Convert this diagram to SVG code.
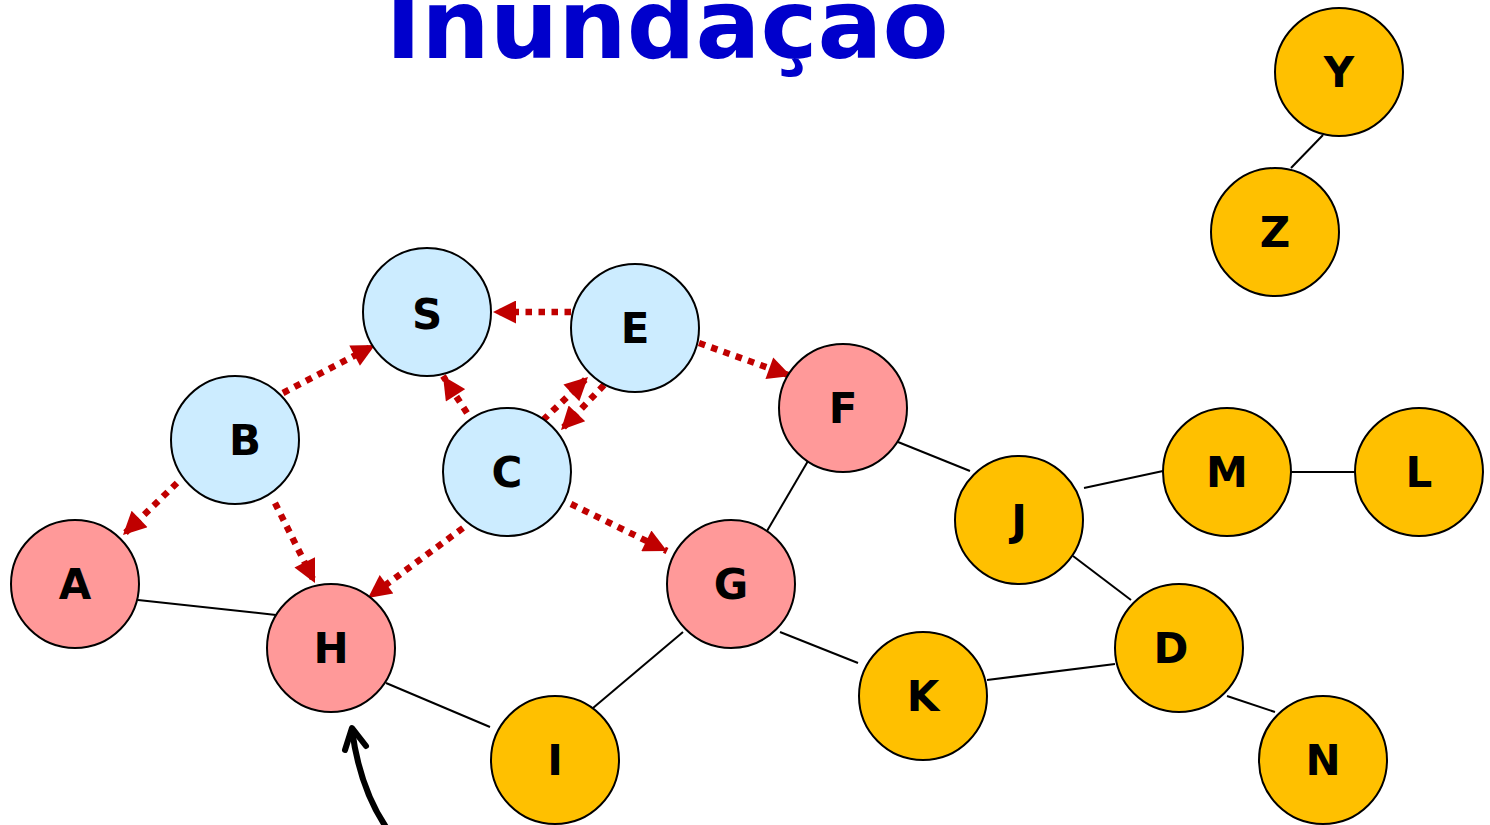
<svg xmlns="http://www.w3.org/2000/svg" width="1490" height="825" viewBox="0 0 1490 825">
<style>
.n{stroke:#000;stroke-width:2}
.blue{fill:#CCECFF}
.pink{fill:#FF9999}
.orng{fill:#FFC000}
.lbl{font-family:"DejaVu Sans","Liberation Sans",sans-serif;font-weight:bold;font-size:42px;fill:#000;text-anchor:middle;dominant-baseline:central}
.e{stroke:#000;stroke-width:2;fill:none}
.d{stroke:#C00000;stroke-width:6.5;stroke-dasharray:6.5 6.5;fill:none;marker-end:url(#ah)}
</style>
<defs>
<marker id="ah" viewBox="0 0 10 10" refX="10" refY="5" markerWidth="25" markerHeight="23" markerUnits="userSpaceOnUse" orient="auto">
<path d="M0,0 L10,5 L0,10 z" fill="#C00000"/>
</marker>
</defs>
<rect width="1490" height="825" fill="#fff"/>
<text x="667" y="58" font-family="'DejaVu Sans','Liberation Sans',sans-serif" font-weight="bold" font-size="96" fill="#0000CC" text-anchor="middle" textLength="563" lengthAdjust="spacingAndGlyphs">Inundação</text>
<g id="connectors">
<line class="e" x1="138" y1="600" x2="276" y2="615"/>
<line class="e" x1="386" y1="683" x2="490" y2="727"/>
<line class="e" x1="593" y1="708" x2="683" y2="632"/>
<line class="e" x1="767" y1="531" x2="808" y2="461"/>
<line class="e" x1="780" y1="632" x2="858" y2="663"/>
<line class="e" x1="898" y1="442" x2="970" y2="471"/>
<line class="e" x1="1084" y1="488" x2="1163" y2="471"/>
<line class="e" x1="1291" y1="472" x2="1355" y2="472"/>
<line class="e" x1="1073" y1="556" x2="1131" y2="600"/>
<line class="e" x1="987" y1="680" x2="1115" y2="664"/>
<line class="e" x1="1227" y1="696" x2="1275" y2="712"/>
<line class="e" x1="1323" y1="135" x2="1291" y2="168"/>
<line class="d" x1="571" y1="312" x2="493" y2="312"/>
<line class="d" x1="283" y1="393" x2="375" y2="345"/>
<line class="d" x1="467" y1="413" x2="443" y2="376"/>
<line class="d" x1="543" y1="420" x2="588" y2="377"/>
<line class="d" x1="604" y1="385" x2="561" y2="430"/>
<line class="d" x1="699" y1="343" x2="791" y2="376"/>
<line class="d" x1="177" y1="483" x2="123" y2="535"/>
<line class="d" x1="275" y1="503" x2="315" y2="583"/>
<line class="d" x1="463" y1="528" x2="368" y2="598"/>
<line class="d" x1="571" y1="504" x2="667" y2="551"/>
<path d="M388,830 Q360,790 352,730" stroke="#000" stroke-width="6" fill="none" stroke-linecap="round"/>
<path d="M345,750 L352,728 L366,746" stroke="#000" stroke-width="6" fill="none" stroke-linecap="round" stroke-linejoin="round"/>
</g>
<g id="node-S"><circle class="n blue" cx="427" cy="312" r="64"/><text class="lbl" x="427" y="314">S</text></g>
<g id="node-E"><circle class="n blue" cx="635" cy="328" r="64"/><text class="lbl" x="635" y="328">E</text></g>
<g id="node-B"><circle class="n blue" cx="235" cy="440" r="64"/><text class="lbl" x="245" y="440">B</text></g>
<g id="node-C"><circle class="n blue" cx="507" cy="472" r="64"/><text class="lbl" x="507" y="472">C</text></g>
<g id="node-F"><circle class="n pink" cx="843" cy="408" r="64"/><text class="lbl" x="843" y="408">F</text></g>
<g id="node-A"><circle class="n pink" cx="75" cy="584" r="64"/><text class="lbl" x="75" y="584">A</text></g>
<g id="node-H"><circle class="n pink" cx="331" cy="648" r="64"/><text class="lbl" x="331" y="648">H</text></g>
<g id="node-G"><circle class="n pink" cx="731" cy="584" r="64"/><text class="lbl" x="731" y="584">G</text></g>
<g id="node-J"><circle class="n orng" cx="1019" cy="520" r="64"/><text class="lbl" x="1019" y="520">J</text></g>
<g id="node-M"><circle class="n orng" cx="1227" cy="472" r="64"/><text class="lbl" x="1227" y="472">M</text></g>
<g id="node-L"><circle class="n orng" cx="1419" cy="472" r="64"/><text class="lbl" x="1419" y="472">L</text></g>
<g id="node-D"><circle class="n orng" cx="1179" cy="648" r="64"/><text class="lbl" x="1171" y="648">D</text></g>
<g id="node-K"><circle class="n orng" cx="923" cy="696" r="64"/><text class="lbl" x="923" y="696">K</text></g>
<g id="node-I"><circle class="n orng" cx="555" cy="760" r="64"/><text class="lbl" x="555" y="760">I</text></g>
<g id="node-N"><circle class="n orng" cx="1323" cy="760" r="64"/><text class="lbl" x="1323" y="760">N</text></g>
<g id="node-Y"><circle class="n orng" cx="1339" cy="72" r="64"/><text class="lbl" x="1339" y="72">Y</text></g>
<g id="node-Z"><circle class="n orng" cx="1275" cy="232" r="64"/><text class="lbl" x="1275" y="232">Z</text></g>
</svg>
